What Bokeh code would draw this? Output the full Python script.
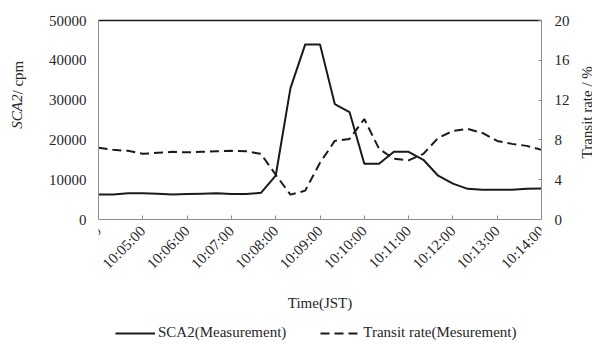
import math
import pandas as pd
from bokeh.plotting import figure
from bokeh.models import (Range1d, LinearAxis, FixedTicker, DatetimeTickFormatter,
                          Legend, LegendItem, Label)
from bokeh.embed import file_html
from bokeh.resources import INLINE

# ---- data ----
times = ["10:04:00", "10:04:20", "10:04:40", "10:05:00", "10:05:20", "10:05:40",
         "10:06:00", "10:06:20", "10:06:40", "10:07:00", "10:07:20", "10:07:40",
         "10:08:00", "10:08:20", "10:08:40", "10:09:00", "10:09:20", "10:09:40",
         "10:10:00", "10:10:20", "10:10:40", "10:11:00", "10:11:20", "10:11:40",
         "10:12:00", "10:12:20", "10:12:40", "10:13:00", "10:13:20", "10:13:40",
         "10:14:00"]
sca2_cpm = [6300, 6300, 6600, 6600, 6500, 6300,
            6400, 6500, 6600, 6400, 6400, 6700,
            11000, 33000, 44000, 44000, 29000, 27000,
            14000, 14000, 17000, 17000, 15000, 11000,
            9000, 7700, 7500, 7500, 7500, 7700,
            7800]
transit_rate = [7.2, 7.0, 6.9, 6.6, 6.7, 6.8,
                6.75, 6.8, 6.85, 6.9, 6.85, 6.6,
                4.5, 2.5, 2.9, 5.7, 7.9, 8.1,
                10.1, 7.1, 6.1, 5.95, 6.6, 8.2,
                8.9, 9.1, 8.7, 7.9, 7.6, 7.4,
                7.0]
x_ticks = ["10:04:00", "10:05:00", "10:06:00", "10:07:00", "10:08:00", "10:09:00",
           "10:10:00", "10:11:00", "10:12:00", "10:13:00", "10:14:00"]
left_ticks = [0, 10000, 20000, 30000, 40000, 50000]
right_ticks = [0, 4, 8, 12, 16, 20]
left_title = ["SCA2", " / cpm"]
right_title = "Transit rate / %"
x_title = "Time(JST)"
series_names = ["SCA2(Measurement)", "Transit rate(Mesurement)"]

DAY = "2000-01-01 "
t = pd.to_datetime([DAY + s for s in times])
tick_dt = pd.to_datetime([DAY + s for s in x_ticks])
tick_ms = [int(v.value // 10**6) for v in tick_dt]

FONT = "Liberation Serif"
AX = "#8c8c8c"
TXT = "#262626"

# layout (pixels): data area 20..219, frame continues down to the window bottom
TOP, DATA_H, BELOW = 20, 199, 125
FRAME_H = DATA_H + BELOW
ext = BELOW / DATA_H  # fraction of the value span that lies below zero in the frame

p = figure(frame_width=443, frame_height=FRAME_H, x_axis_type="datetime",
           x_range=Range1d(tick_dt[0], tick_dt[-1]),
           y_range=Range1d(left_ticks[0] - ext * (left_ticks[-1] - left_ticks[0]),
                           left_ticks[-1]),
           output_backend="svg", toolbar_location=None,
           min_border_left=98, min_border_right=51,
           min_border_top=TOP, min_border_bottom=0)
p.extra_y_ranges = {"rate": Range1d(right_ticks[0] - ext * (right_ticks[-1] - right_ticks[0]),
                                    right_ticks[-1])}
p.outline_line_color = None
p.xgrid.visible = False
p.ygrid.visible = False

r1 = p.line(t, sca2_cpm, line_color="#1a1a1a", line_width=2)
r2 = p.line(t, transit_rate, y_range_name="rate", line_color="#1a1a1a",
            line_width=2, line_dash="9 5")

# bottom axis, drawn at value 0
xa = p.xaxis[0]
xa.fixed_location = left_ticks[0]
xa.ticker = FixedTicker(ticks=tick_ms)
fmt = "%H:%M:%S"
xa.formatter = DatetimeTickFormatter(seconds=fmt, minsec=fmt, minutes=fmt, hourmin=fmt,
                                     hours=fmt, days=fmt, months=fmt, years=fmt)
xa.major_label_orientation = math.pi / 4
xa.major_label_standoff = 9
xa.major_tick_in = 4
xa.major_tick_out = 0
xa.minor_tick_line_color = None
xa.axis_line_color = AX
xa.major_tick_line_color = AX
xa.axis_label = x_title
xa.axis_label_text_font = FONT
xa.axis_label_text_font_style = "normal"
xa.axis_label_text_font_size = "15px"
xa.axis_label_text_color = TXT
xa.axis_label_standoff = 14
xa.major_label_text_font = FONT
xa.major_label_text_font_size = "15px"
xa.major_label_text_color = TXT

# left axis
ya = p.yaxis[0]
ya.bounds = (left_ticks[0], left_ticks[-1])
ya.ticker = FixedTicker(ticks=left_ticks)
ya.major_tick_line_color = None
ya.minor_tick_line_color = None
ya.major_tick_in = 0
ya.major_tick_out = 0
ya.major_label_standoff = 12
ya.axis_line_color = AX
ya.major_label_text_font = FONT
ya.major_label_text_font_size = "15px"
ya.major_label_text_color = TXT

# right axis
ra = LinearAxis(y_range_name="rate", ticker=FixedTicker(ticks=right_ticks),
                bounds=(right_ticks[0], right_ticks[-1]))
ra.major_tick_in = 3
ra.major_tick_out = 0
ra.minor_tick_line_color = None
ra.major_tick_line_color = AX
ra.axis_line_color = AX
ra.major_label_standoff = 13
ra.major_label_text_font = FONT
ra.major_label_text_font_size = "15px"
ra.major_label_text_color = TXT
p.add_layout(ra, "right")

# top border (black)
ta = LinearAxis(ticker=FixedTicker(ticks=[]))
ta.axis_line_color = "#1a1a1a"
ta.axis_line_width = 1.5
ta.major_tick_line_color = None
ta.minor_tick_line_color = None
ta.major_label_text_font_size = "0px"
p.add_layout(ta, "above")

# axis titles, each in its own side column (x from the column's left edge,
# y from the frame bottom)
p.add_layout(Label(x=-13, y=FRAME_H - 74, x_units="screen", y_units="screen",
                   angle=math.pi / 2, text=left_title[0], text_font=FONT,
                   text_font_style="italic", text_font_size="15px", text_color=TXT,
                   text_align="right", text_baseline="middle"), "left")
p.add_layout(Label(x=4, y=FRAME_H - 74, x_units="screen", y_units="screen",
                   angle=math.pi / 2, text=left_title[1], text_font=FONT,
                   text_font_size="15px", text_color=TXT,
                   text_align="left", text_baseline="middle"), "left")
p.add_layout(Label(x=14, y=FRAME_H - 138, x_units="screen", y_units="screen",
                   angle=math.pi / 2, text=right_title, text_font=FONT,
                   text_font_size="15px", text_color=TXT,
                   text_align="left", text_baseline="middle"), "right")

legend = Legend(items=[LegendItem(label=series_names[0], renderers=[r1]),
                       LegendItem(label=series_names[1], renderers=[r2])],
                orientation="horizontal", location=(17, 3),
                padding=0, margin=0, spacing=34, label_standoff=3,
                glyph_width=40, glyph_height=16, label_height=16,
                label_text_font=FONT, label_text_font_size="15px",
                label_text_color=TXT, border_line_color=None,
                background_fill_alpha=0)
p.add_layout(legend, "center")

open("out.html", "w").write(file_html(p, INLINE))
